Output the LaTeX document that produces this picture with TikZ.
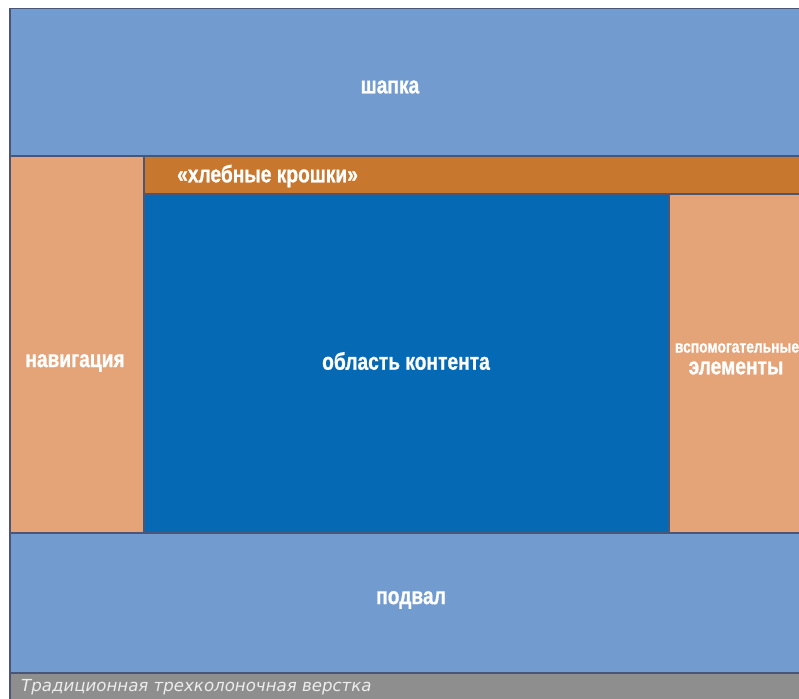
\documentclass[tikz,border=0pt]{standalone}
\usepackage{fontspec}
\setmainfont{Liberation Sans}
\newfontfamily\condfont[FakeStretch=0.8,FakeBold=0.8]{Liberation Sans}
\newfontfamily\captfont{DejaVu Sans}
\definecolor{hdrblue}{HTML}{729BCF}
\definecolor{navorange}{HTML}{E5A378}
\definecolor{crumbbrown}{HTML}{C8782E}
\definecolor{mainblue}{HTML}{0669B3}
\definecolor{edge}{HTML}{4B5575}
\definecolor{captgrey}{HTML}{8E8E8E}
\tikzset{
  block/.style={draw=edge,line width=1.5pt,anchor=north west,inner sep=0pt},
  lbl/.style={text=white,inner sep=0pt,font=\condfont\bfseries\fontsize{24}{26}\selectfont},
}

\begin{document}
\begin{tikzpicture}[x=1pt,y=-1pt]
  \useasboundingbox (0,0) rectangle (799,698);
  \begin{scope}
  \clip (0,0) rectangle (799,698);
  % blocks
  \node[block,fill=hdrblue,minimum width=810,minimum height=147] (shapka) at (9,8) {};
  \node[block,fill=navorange,minimum width=134,minimum height=377] (nav) at (9,155) {};
  \node[block,fill=crumbbrown,minimum width=670,minimum height=38] (crumbs) at (143,155) {};
  \node[block,fill=mainblue,minimum width=525,minimum height=339] (content) at (143,193) {};
  \node[block,fill=navorange,minimum width=140,minimum height=339] (aside) at (668,193) {};
  \node[block,fill=hdrblue,minimum width=810,minimum height=140] (podval) at (9,532) {};
  \node[block,fill=captgrey,minimum width=810,minimum height=30] (capt) at (9,672) {};
  % labels
  \node[lbl] (shapka-t) at (390,87) {шапка};
  \node[lbl] (nav-t) at (75,363) {навигация};
  \node[lbl,anchor=west] (crumbs-t) at (177,176) {«хлебные крошки»};
  \node[lbl] (content-t) at (406,361) {область контента};
  \node[lbl,font=\condfont\bfseries\fontsize{17.3}{19}\selectfont] (aside-t1) at (737,348) {вспомогательные};
  \node[lbl] (aside-t2) at (736,368) {элементы};
  \node[lbl] (podval-t) at (411,600) {подвал};
  \node[anchor=west,inner sep=0pt,text=white!93!black,font=\captfont\itshape\fontsize{16.6}{18}\selectfont] (capt-t) at (21,687) {Традиционная трехколоночная верстка};
  \end{scope}
\end{tikzpicture}
\end{document}
